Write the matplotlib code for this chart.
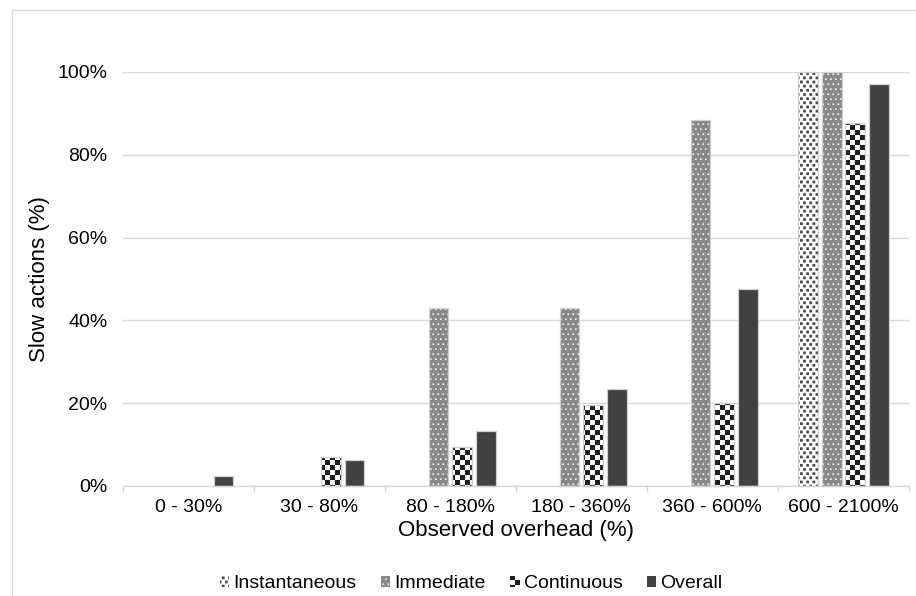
import warnings
import numpy as np
import matplotlib
matplotlib.use("Agg")
import matplotlib.pyplot as plt
import matplotlib.hatch as mhatch
from matplotlib.path import Path
from matplotlib.patches import Rectangle
from matplotlib.ticker import PercentFormatter, FixedLocator, NullFormatter

warnings.filterwarnings("ignore", category=matplotlib.MatplotlibDeprecationWarning)

categories = ["0 - 30%", "30 - 80%", "80 - 180%", "180 - 360%", "360 - 600%", "600 - 2100%"]
series_names = ["Instantaneous", "Immediate", "Continuous", "Overall"]
instantaneous = [0, 0, 0, 0, 0, 100]
immediate = [0, 0, 42.9, 42.9, 88.3, 100]
continuous = [0, 7.0, 9.4, 19.6, 20.0, 87.6]
overall = [2.4, 6.3, 13.3, 23.4, 47.6, 97.1]


# custom square-grid hatches (dots / checkerboard), registered with matplotlib
class SquareGrid(mhatch.HatchPatternBase):
    char = None
    cols = rows = 0
    side = 0.0

    def __init__(self, hatch, density):
        self.num_vertices = self.cols * self.rows * 5 if self.char in hatch else 0

    def set_vertices_and_codes(self, vertices, codes):
        dx, dy = 1.0 / self.cols, 1.0 / self.rows
        k = 0
        for r in range(self.rows):
            shift = dx / 2 if r % 2 else 0.0
            y0 = r * dy
            for c in range(self.cols):
                x0 = c * dx + shift
                s = self.side
                vertices[k:k + 5] = [(x0, y0), (x0 + s, y0), (x0 + s, y0 + s), (x0, y0 + s), (x0, y0)]
                codes[k:k + 5] = [Path.MOVETO, Path.LINETO, Path.LINETO, Path.LINETO, Path.CLOSEPOLY]
                k += 5


class Checker(SquareGrid):
    char, cols, rows, side = "c", 10, 20, 0.05


class BigDots(SquareGrid):
    char, cols, rows, side = "d", 16, 24, 0.027


class SmallDots(SquareGrid):
    char, cols, rows, side = "s", 20, 20, 0.016


mhatch._hatch_types.extend([Checker, BigDots, SmallDots])
plt.rcParams["hatch.linewidth"] = 0.05
plt.rcParams["font.family"] = ["Liberation Sans", "DejaVu Sans"]

fig = plt.figure(figsize=(9.16, 5.96), dpi=100)
ax = fig.add_axes([122.7 / 916, 1 - 486 / 596, (909 - 122.7) / 916, (486 - 72) / 596])

values = [instantaneous, immediate, continuous, overall]
faces = ["white", "#888888", "white", "#404040"]
hatch_colors = ["#4a4a4a", "#f0f0f0", "#1e1e1e", "#404040"]
hatches = ["d", "s", "c", None]

x = np.arange(len(categories))
width = 0.15
step = 0.18
handles = []
for i, (vals, fc, hc, h) in enumerate(zip(values, faces, hatch_colors, hatches)):
    pos = x + (i - 1.5) * step
    vals = np.array(vals) / 100
    b = ax.bar(pos, vals, width, color=fc, edgecolor=hc, hatch=h, linewidth=0,
               label=series_names[i], zorder=2, clip_on=False)
    ax.bar(pos, vals, width, fill=False, edgecolor="#d0d0d0",
           linewidth=[0.9 if v > 0 else 0 for v in vals], zorder=3, clip_on=False)
    handles.append(b)

ax.set_xlim(-0.5, len(categories) - 0.5)
ax.set_ylim(0, 1)
ax.yaxis.set_major_formatter(PercentFormatter(1.0, decimals=0))
ax.set_yticks(np.arange(0, 1.01, 0.2))
ax.grid(axis="y", color="#d9d9d9", linewidth=1, zorder=0)
ax.set_axisbelow(True)
for s in ["top", "right", "left"]:
    ax.spines[s].set_visible(False)
ax.spines["bottom"].set_color("#d9d9d9")
ax.spines["bottom"].set_linewidth(1)

ax.set_xticks(x)
ax.set_xticklabels(categories)
ax.xaxis.set_minor_locator(FixedLocator(np.arange(-0.5, len(categories), 1.0)))
ax.xaxis.set_minor_formatter(NullFormatter())
ax.tick_params(axis="x", which="major", length=0, labelsize=14, pad=9, colors="black")
ax.tick_params(axis="x", which="minor", length=4, color="#d9d9d9", width=1)
ax.tick_params(axis="y", length=0, labelsize=14, pad=11)

ax.set_xlabel("Observed overhead (%)", fontsize=16, labelpad=3)
ax.set_ylabel("Slow actions (%)", fontsize=16, labelpad=5)

fig.legend(handles=handles, labels=series_names, loc="center",
           bbox_to_anchor=(471 / 916, 1 - 584 / 596), ncol=4, frameon=False,
           fontsize=14, handlelength=0.5, handleheight=0.5, handletextpad=0.2,
           columnspacing=1.25, borderpad=0)

fig.add_artist(Rectangle((12 / 916, -0.1), 1.1, 1 - 10 / 596 + 0.1, transform=fig.transFigure,
                         fill=False, edgecolor="#d9d9d9", linewidth=1))

fig.savefig("out.png", dpi=100)
